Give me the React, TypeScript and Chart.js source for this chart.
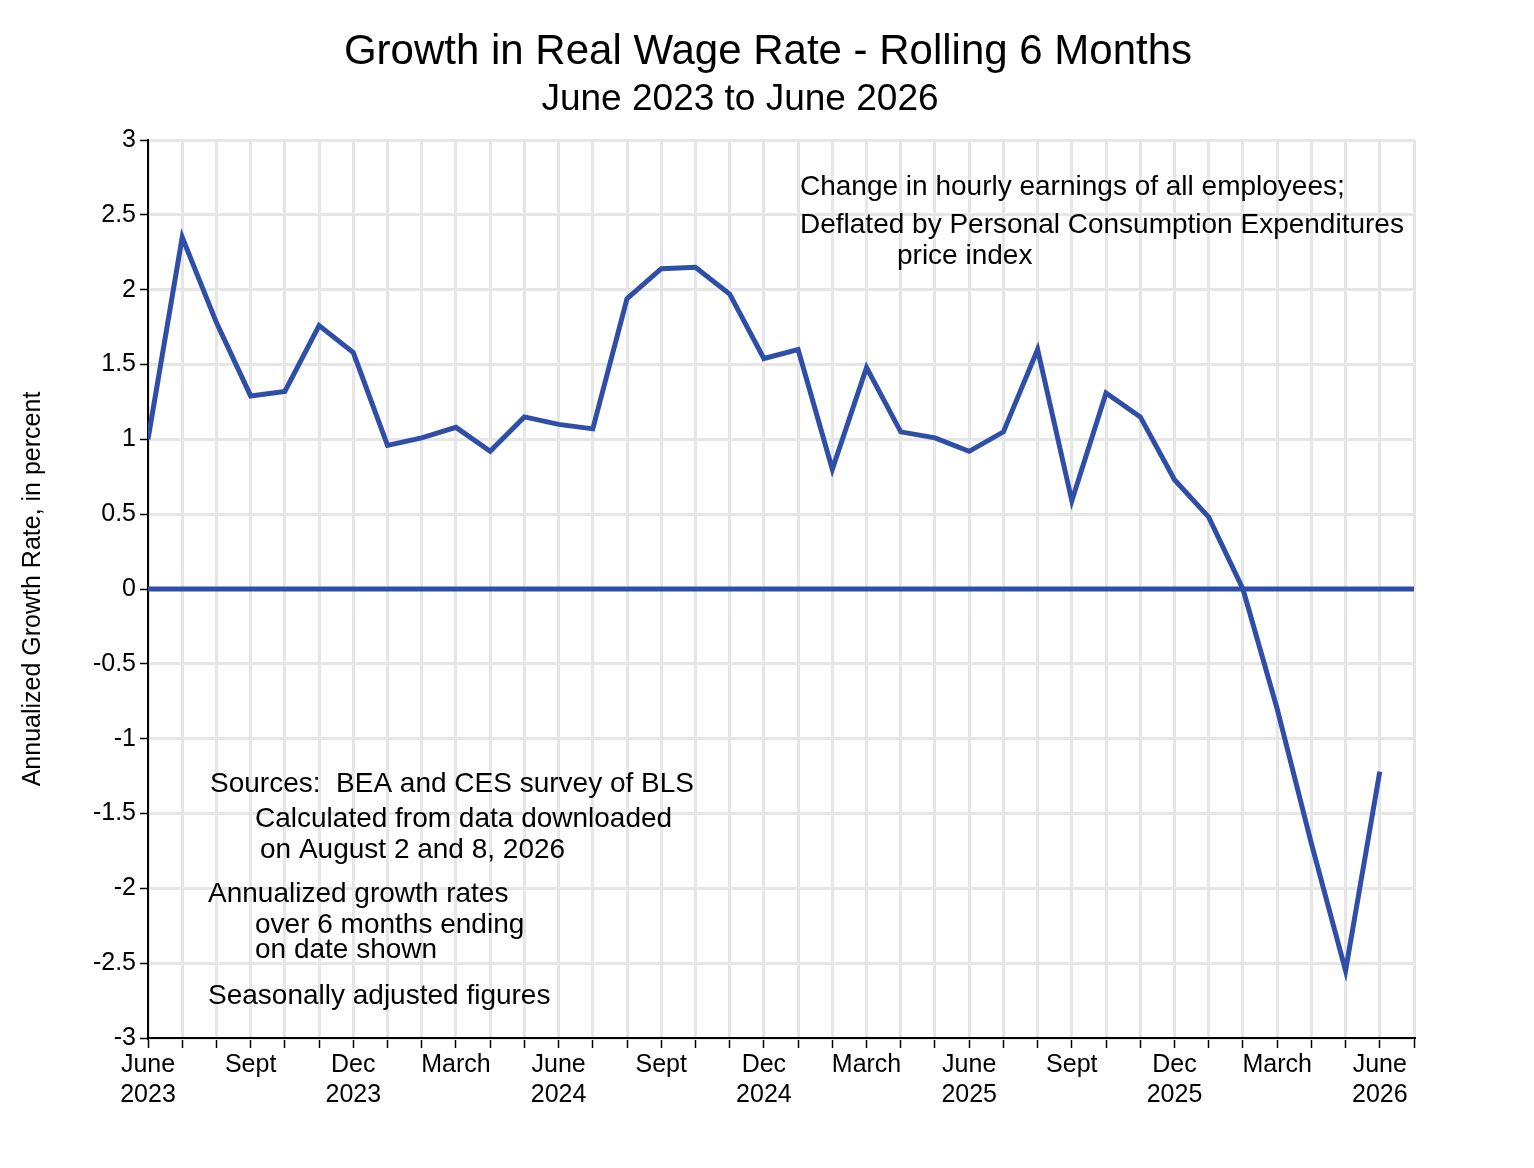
import React, { useEffect, useRef } from "react";
import { Chart, registerables } from "chart.js";
Chart.register(...registerables);

const growth = [1.0, 2.35, 1.78, 1.29, 1.32, 1.76, 1.58, 0.96, 1.01, 1.08, 0.92, 1.15, 1.1, 1.07, 1.94, 2.14, 2.15, 1.97, 1.54, 1.6, 0.8, 1.48, 1.05, 1.01, 0.92, 1.05, 1.6, 0.59, 1.31, 1.15, 0.73, 0.48, 0.0, -0.8, -1.7, -2.55, -1.22];
const tickLabels: Record<number, string[]> = {
  0: ["June", "2023"], 3: ["Sept"], 6: ["Dec", "2023"], 9: ["March"], 12: ["June", "2024"],
  15: ["Sept"], 18: ["Dec", "2024"], 21: ["March"], 24: ["June", "2025"], 27: ["Sept"],
  30: ["Dec", "2025"], 33: ["March"], 36: ["June", "2026"],
};
const notes: [string, number, number][] = [
  ["Change in hourly earnings of all employees;", 800, 187],
  ["Deflated by Personal Consumption Expenditures", 800, 225],
  ["price index", 897, 256],
  ["Sources:  BEA and CES survey of BLS", 210, 784],
  ["Calculated from data downloaded", 255, 819],
  ["on August 2 and 8, 2026", 260, 850],
  ["Annualized growth rates", 208, 894],
  ["over 6 months ending", 255, 925],
  ["on date shown", 255, 950],
  ["Seasonally adjusted figures", 208, 996],
];
const FONT = "'Liberation Sans', Arial, sans-serif";
const BLUE = "#2f4ea8";

export default function App() {
  const ref = useRef<HTMLCanvasElement>(null);
  useEffect(() => {
    document.body.style.margin = "0";
    const textPlugin = {
      id: "texts",
      afterDraw(chart: any) {
        const c = chart.ctx;
        c.save();
        c.fillStyle = "#000";
        c.textAlign = "center";
        c.textBaseline = "middle";
        c.font = `42px ${FONT}`;
        c.fillText("Growth in Real Wage Rate - Rolling 6 Months", 768, 52);
        c.font = `37px ${FONT}`;
        c.fillText("June 2023 to June 2026", 740, 100);
        c.font = `25px ${FONT}`;
        c.translate(33, 589);
        c.rotate(-Math.PI / 2);
        c.fillText("Annualized Growth Rate, in percent", 0, 0);
        c.restore();
        c.save();
        c.fillStyle = "#000";
        c.textBaseline = "middle";
        c.textAlign = "left";
        c.font = `28px ${FONT}`;
        for (const [t, x, y] of notes) c.fillText(t, x, y);
        c.restore();
      },
    };
    const chart = new Chart(ref.current!, {
      type: "line",
      data: {
        datasets: [
          { data: growth.map((v, i) => ({ x: i, y: v })), borderColor: BLUE, borderWidth: 5, pointRadius: 0, tension: 0 },
          { data: [{ x: 0, y: 0 }, { x: 37, y: 0 }], borderColor: BLUE, borderWidth: 5, pointRadius: 0 },
        ],
      },
      plugins: [textPlugin],
      options: {
        animation: false,
        responsive: false,
        layout: { padding: { top: 140, right: 120, left: 0, bottom: 0 } },
        plugins: { legend: { display: false }, tooltip: { enabled: false } },
        scales: {
          x: {
            type: "linear", min: 0, max: 37,
            afterFit: (s: any) => { s.height = 130; },
            grid: { color: "#e6e6e6", lineWidth: 3, tickLength: 10, tickColor: "#000", tickWidth: 1.5 },
            border: { color: "#000", width: 2 },
            ticks: {
              stepSize: 1, autoSkip: false, maxRotation: 0, color: "#000", padding: 2,
              font: { family: FONT, size: 25 },
              callback: (v: any) => tickLabels[v] ?? "",
            } as any,
          },
          y: {
            min: -3, max: 3,
            afterFit: (s: any) => { s.width = 148; },
            grid: { color: "#e6e6e6", lineWidth: 3, tickLength: 8, tickColor: "#000", tickWidth: 1.5 },
            border: { color: "#000", width: 2 },
            ticks: { stepSize: 0.5, color: "#000", padding: 4, font: { family: FONT, size: 25 }, callback: (v: any) => String(v) },
          },
        },
      } as any,
    });
    return () => chart.destroy();
  }, []);
  return <canvas ref={ref} width={1534} height={1168} style={{ display: "block" }} />;
}
